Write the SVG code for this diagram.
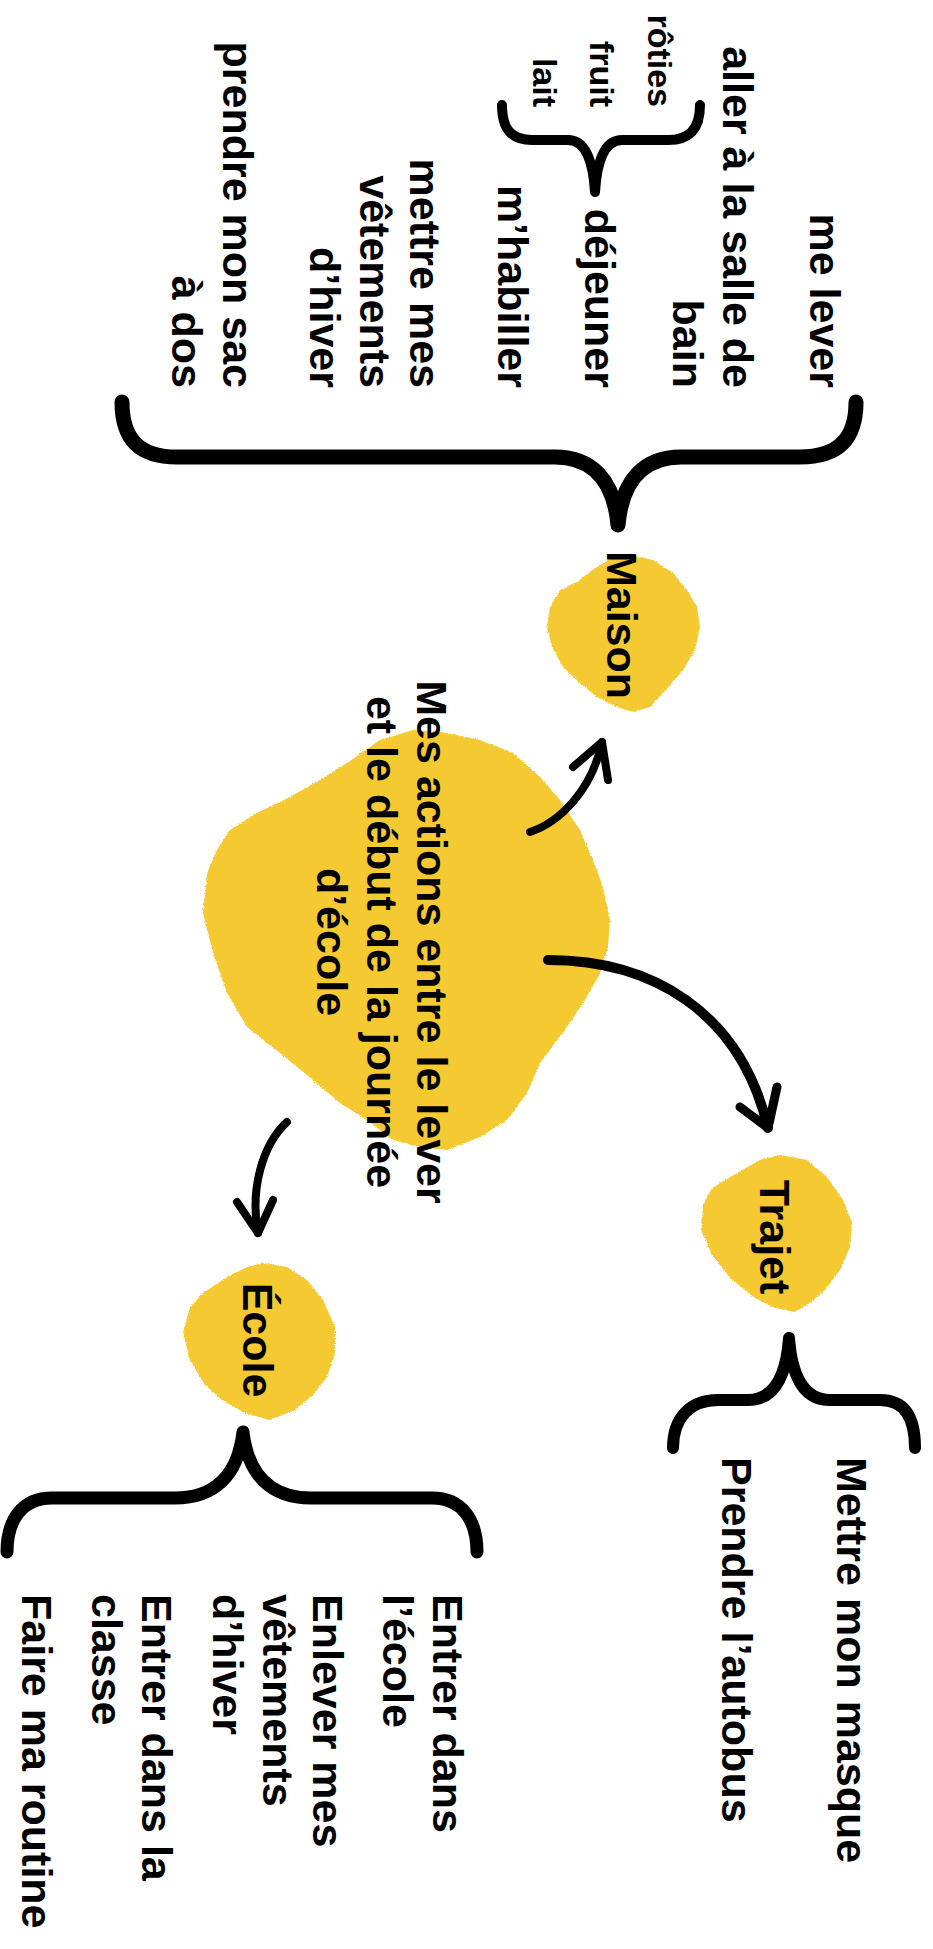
<svg xmlns="http://www.w3.org/2000/svg" width="933" height="1949" viewBox="0 0 933 1949">
<defs>
<style>
.t{font-family:"Liberation Sans",Arial,sans-serif;font-weight:700;font-size:43px;fill:#000}
.s{font-size:34px}
.blob{fill:#F5C931;filter:url(#rough)}
.br{fill:none;stroke:#000;stroke-linecap:round;stroke-linejoin:round}
.ar{fill:none;stroke:#000;stroke-linecap:round;stroke-linejoin:round}
</style>
<filter id="rough" x="-5%" y="-5%" width="110%" height="110%">
<feTurbulence type="fractalNoise" baseFrequency="0.9" numOctaves="2" seed="3"/>
<feDisplacementMap in="SourceGraphic" scale="3" xChannelSelector="R" yChannelSelector="G"/>
</filter>
</defs>
<rect width="933" height="1949" fill="#fff"/>

<g id="center">
<path class="blob" d="M413,730 L447,733 L480,740 L513,753 L540,777 L560,800 L580,830 L593,860 L603,887 L610,920 L608,947 L600,973 L587,997 L567,1027 L540,1063 L527,1093 L507,1120 L480,1137 L447,1150 L420,1147 L393,1140 L367,1120 L340,1103 L313,1080 L280,1053 L247,1027 L227,993 L213,953 L203,913 L207,873 L217,850 L230,830 L257,813 L290,797 L320,780 L347,763 L380,740 Z"/>
<g transform="rotate(90)">
<text class="t" x="942" y="-417" text-anchor="middle">Mes actions entre le lever</text>
<text class="t" x="942" y="-367" text-anchor="middle">et le début de la journée</text>
<text class="t" x="942" y="-317" text-anchor="middle">d’école</text>
</g>
</g>

<g id="maison">
<path class="blob" d="M630,555 L653,560 L673,573 L687,590 L697,607 L700,627 L695,650 L683,670 L672,683 L663,693 L650,707 L633,712 L617,707 L597,697 L580,683 L563,667 L552,647 L547,627 L550,607 L560,590 L577,582 L597,567 L613,557 Z"/>
<g transform="rotate(90)"><text class="t" x="625" y="-607" text-anchor="middle">Maison</text></g>
</g>

<g id="trajet">
<path class="blob" d="M780,1155 L807,1160 L827,1177 L843,1200 L852,1223 L850,1247 L840,1270 L825,1290 L810,1303 L795,1312 L775,1308 L755,1298 L730,1278 L712,1255 L701,1230 L703,1205 L712,1188 L737,1173 L760,1160 Z"/>
<g transform="rotate(90)"><text class="t" x="1237" y="-760" text-anchor="middle">Trajet</text></g>
</g>

<g id="ecole">
<path class="blob" d="M263,1263 L287,1267 L307,1280 L323,1300 L335,1327 L335,1353 L327,1377 L313,1395 L295,1410 L270,1420 L245,1413 L222,1400 L205,1385 L190,1360 L183,1333 L190,1307 L203,1293 L227,1277 L247,1267 Z"/>
<g transform="rotate(90)"><text class="t" x="1340" y="-243" text-anchor="middle">École</text></g>
</g>

<g id="maison-items">
<g transform="rotate(90)">
<text class="t" x="388" y="-810" text-anchor="end">me lever</text>
<text class="t" x="388" y="-723" text-anchor="end">aller à la salle de</text>
<text class="t" x="388" y="-673" text-anchor="end">bain</text>
<text class="t" x="388" y="-585" text-anchor="end">déjeuner</text>
<text class="t" x="388" y="-498" text-anchor="end">m’habiller</text>
<text class="t" x="388" y="-410" text-anchor="end">mettre mes</text>
<text class="t" x="388" y="-360" text-anchor="end">vêtements</text>
<text class="t" x="388" y="-310" text-anchor="end">d’hiver</text>
<text class="t" x="388" y="-223" text-anchor="end">prendre mon sac</text>
<text class="t" x="388" y="-172" text-anchor="end">à dos</text>
</g>
</g>

<g id="dejeuner-items">
<g transform="rotate(90)">
<text class="t s" x="107" y="-648" text-anchor="end">rôties</text>
<text class="t s" x="107" y="-590" text-anchor="end">fruit</text>
<text class="t s" x="107" y="-533" text-anchor="end">lait</text>
</g>
</g>

<g id="trajet-items">
<g transform="rotate(90)">
<text class="t" x="1457" y="-837">Mettre mon masque</text>
<text class="t" x="1457" y="-722">Prendre l’autobus</text>
</g>
</g>

<g id="ecole-items">
<g transform="rotate(90)">
<text class="t" x="1594" y="-433">Entrer dans</text>
<text class="t" x="1594" y="-383">l’école</text>
<text class="t" x="1594" y="-313">Enlever mes</text>
<text class="t" x="1594" y="-263">vêtements</text>
<text class="t" x="1594" y="-213">d’hiver</text>
<text class="t" x="1594" y="-142">Entrer dans la</text>
<text class="t" x="1594" y="-92">classe</text>
<text class="t" x="1594" y="-22">Faire ma routine</text>
</g>
</g>

<g id="connectors">
<path class="br" stroke-width="15" d="M122,402 C122,440 140,457 177,457 L555,457 C592,457 614,480 618,525 C622,480 644,457 681,457 L800,457 C837,457 856,440 856,402"/>
<path class="br" stroke-width="10" d="M502,105 C502,130 512,140 532,140 L568,140 C585,140 593,160 595,192 C597,160 605,140 622,140 L668,140 C688,140 700,130 700,105"/>
<path class="br" stroke-width="12" d="M673,1448 C673,1418 690,1400 718,1400 L748,1400 C772,1400 786,1380 789,1338 C792,1380 806,1400 830,1400 L880,1400 C905,1400 915,1418 915,1448"/>
<path class="br" stroke-width="13" d="M7,1552 C7,1520 22,1498 52,1498 L175,1498 C215,1498 238,1475 243,1432 C248,1475 271,1498 311,1498 L432,1498 C462,1498 477,1520 477,1552"/>
<path class="ar" stroke-width="8" d="M530,832 C560,822 592,790 602,742"/>
<path class="ar" stroke-width="8" d="M573,767 L602,742 L608,780"/>
<path class="ar" stroke-width="10" d="M548,960 C650,960 740,1010 768,1128" stroke-linecap="butt"/>
<path class="ar" stroke-width="9" d="M740,1107 L768,1128 L777,1087"/>
<path class="ar" stroke-width="8" d="M287,1122 C262,1145 250,1190 258,1233"/>
<path class="ar" stroke-width="8" d="M237,1202 L258,1233 L273,1200"/>
</g>
</svg>
